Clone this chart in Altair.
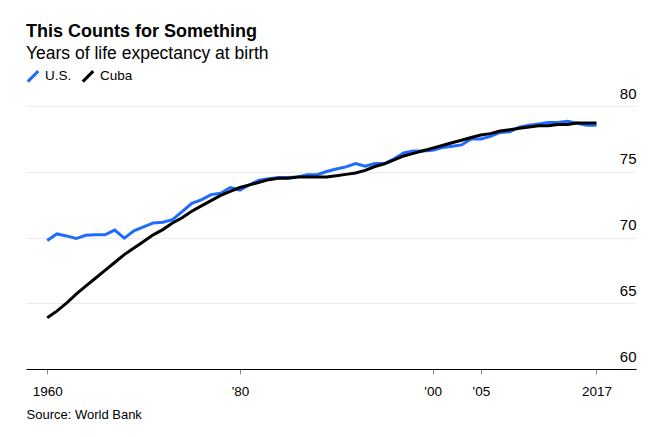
import altair as alt
import pandas as pd

years = list(range(1960, 2018))
us = [69.77, 70.27, 70.12, 69.92, 70.17, 70.21, 70.21, 70.56, 69.95, 70.51,
      70.81, 71.11, 71.16, 71.36, 71.96, 72.60, 72.86, 73.26, 73.36, 73.80,
      73.61, 74.01, 74.36, 74.46, 74.56, 74.56, 74.61, 74.77, 74.77, 75.02,
      75.21, 75.37, 75.62, 75.42, 75.62, 75.62, 75.99, 76.43, 76.58, 76.58,
      76.64, 76.84, 76.94, 77.04, 77.49, 77.49, 77.69, 77.99, 78.04, 78.39,
      78.54, 78.64, 78.74, 78.74, 78.84, 78.69, 78.54, 78.54]
cuba = [63.9, 64.4, 65.0, 65.7, 66.3, 66.9, 67.5, 68.1, 68.7, 69.2,
        69.7, 70.2, 70.6, 71.1, 71.5, 72.0, 72.4, 72.8, 73.2, 73.5,
        73.8, 74.0, 74.2, 74.4, 74.5, 74.5, 74.6, 74.6, 74.6, 74.6,
        74.7, 74.8, 74.9, 75.1, 75.4, 75.6, 75.9, 76.2, 76.4, 76.6,
        76.8, 77.0, 77.2, 77.4, 77.6, 77.8, 77.9, 78.1, 78.2, 78.3,
        78.4, 78.5, 78.5, 78.6, 78.6, 78.7, 78.7, 78.7]
series = ["U.S.", "Cuba"]
colors = ["#1f6bff", "#000000"]
x_ticks = [1960, 1980, 2000, 2005, 2017]
y_ticks = [60, 65, 70, 75, 80]

rows = []
for name, vals in zip(series, [us, cuba]):
    for yr, v in zip(years, vals):
        rows.append({"year": yr, "value": v, "country": name})
df = pd.DataFrame(rows)

FONT = "Liberation Sans"

chart = alt.Chart(df).mark_line(strokeWidth=3).encode(
    x=alt.X("year:Q",
            scale=alt.Scale(domain=[1957.8, 2021.1], nice=False, zero=False),
            axis=alt.Axis(values=x_ticks, grid=False, domainColor="#000000", domainWidth=1,
                          tickColor="#888888", tickSize=5, tickWidth=1,
                          labelExpr="(datum.value == 1960 || datum.value == 2017) ? '' + datum.value : \"'\" + substring('' + datum.value, 2, 4)",
                          labelFontSize=13.5, labelColor="#000000", labelFont=FONT,
                          labelBaseline="alphabetic", labelPadding=21,
                          title="Source: World Bank", titleFont=FONT, titleFontSize=13,
                          titleFontWeight="normal", titleColor="#000000",
                          titleAnchor="start", titleAlign="left", titleBaseline="alphabetic",
                          titleX=0, titleY=49, zindex=1)),
    y=alt.Y("value:Q",
            scale=alt.Scale(domain=[60, 80], nice=False, zero=False),
            axis=alt.Axis(orient="right", values=y_ticks, grid=True, gridColor="#ececec",
                          gridWidth=1, domain=False, ticks=False, tickSize=0,
                          labelAlign="right", labelBaseline="alphabetic", labelPadding=0,
                          labelOffset=-8, labelFontSize=15, labelColor="#000000",
                          labelFont=FONT, title=None)),
    color=alt.Color("country:N",
                    scale=alt.Scale(domain=series, range=colors),
                    legend=alt.Legend(orient="none", legendX=0, legendY=-37,
                                      direction="horizontal", title=None,
                                      symbolType="M-1,1L1,-1", symbolSize=110,
                                      symbolStrokeWidth=3, labelFontSize=13.5,
                                      labelFont=FONT, labelColor="#000000",
                                      labelOffset=5, columnPadding=4)),
).properties(
    width=610,
    height=263,
    padding={"left": 18, "top": 98, "right": 10, "bottom": 55},
    autosize=alt.AutoSizeParams(type="none"),
    title=alt.TitleParams(text="This Counts for Something",
                          subtitle="Years of life expectancy at birth",
                          anchor="start", font=FONT, fontSize=18, fontWeight="bold",
                          color="#000000", subtitleFont=FONT, subtitleFontSize=17.5,
                          subtitleColor="#000000", subtitlePadding=4, offset=7),
).configure_view(stroke=None)

chart.save("out.html", embed_options={"renderer": "svg", "actions": False})
